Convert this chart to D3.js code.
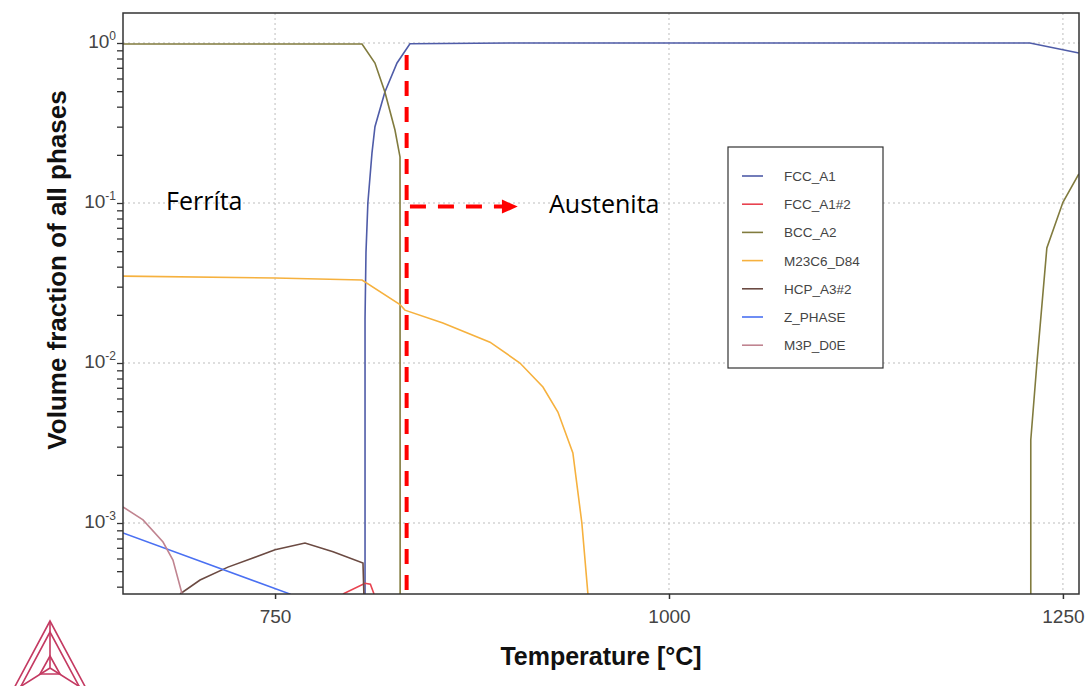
<html lang="en">
<head>
<meta charset="utf-8">
<title>Volume fraction of all phases</title>
<style>
  body { margin: 0; background: #fff; }
  svg { display: block; }
  .ticktext { font-family: "Liberation Sans", Arial, sans-serif; fill: #444; }
</style>
<script src="https://cdn.jsdelivr.net/npm/d3@7"></script>
</head>
<body>
<svg id="chart" width="1086" height="686"></svg>
<script>
// phase curves, [temperature °C, volume fraction]
var fccA1 = [[807.1, 2e-4], [807.1, 0.0187], [807.7, 0.049], [808.9, 0.1], [811.5, 0.205],
  [813.4, 0.30], [819.7, 0.494], [827.4, 0.75], [835.6, 0.99], [900, 1.0], [1000, 1.0],
  [1229, 1.0], [1260.1, 0.866]];
var fccA1n2 = [[793.1, 3.6e-4], [807.1, 4.2e-4], [810.5, 4.15e-4], [812.8, 3.6e-4]];
var bccA2 = [[653.5, 0.985], [805.2, 0.985], [813.4, 0.75], [819.7, 0.494], [826.1, 0.286],
  [829.3, 0.194], [829.4, 2e-4]];
var bccA2high = [[1229.6, 2e-4], [1229.6, 3.3e-3], [1233.5, 0.01], [1239.8, 0.0524],
  [1250, 0.101], [1260.1, 0.152]];
var m23c6 = [[653.5, 0.0349], [750, 0.034], [805.2, 0.033], [829.3, 0.0232], [832.4, 0.0214],
  [856.5, 0.0178], [886.4, 0.0135], [905.4, 0.01], [920, 0.00708], [929.5, 0.00494],
  [939, 0.00274], [944.7, 0.001], [948.5, 3.65e-4], [949, 3e-4]];
var hcpA3n2 = [[689.7, 3.6e-4], [702.4, 4.4e-4], [720.1, 5.3e-4], [750, 6.8e-4], [769, 7.5e-4],
  [786.8, 6.62e-4], [805.8, 5.62e-4], [807.1, 2e-4]];
var zPhase = [[653.5, 8.66e-4], [706.5, 5.58e-4], [759.5, 3.6e-4], [760, 3.4e-4]];
var m3pD0e = [[653.5, 1.26e-3], [666.2, 1.045e-3], [678.9, 7.6e-4], [685.2, 5.87e-4], [691, 3.6e-4]];

var phaseNames = ["FCC_A1", "FCC_A1#2", "BCC_A2", "M23C6_D84", "HCP_A3#2", "Z_PHASE", "M3P_D0E"];
var phaseColors = ["#4f5ca8", "#e8424f", "#817b3e", "#f6b13e", "#6b4a42", "#4a70f2", "#c08490"];
var phaseCurves = [[fccA1], [fccA1n2], [bccA2, bccA2high], [m23c6], [hcpA3n2], [zPhase], [m3pD0e]];

var xTicks = [750, 1000, 1250];
var yExps = [0, -1, -2, -3];

var svg = d3.select("#chart");
var pLeft = 123, pRight = 1079, pTop = 13, pBottom = 594;

var x = d3.scaleLinear().domain([653.5, 1260.2]).range([pLeft, pRight]);
var y = d3.scaleLog().domain([3.6e-4, 1.54]).range([pBottom, pTop]);

svg.append("clipPath").attr("id", "plotclip")
  .append("rect").attr("x", pLeft).attr("y", pTop)
  .attr("width", pRight - pLeft).attr("height", pBottom - pTop);

// grid
var grid = svg.append("g").attr("stroke", "#bdbdbd").attr("stroke-dasharray", "2,3").attr("stroke-width", 1);
xTicks.forEach(function(t) {
  grid.append("line").attr("x1", x(t)).attr("x2", x(t)).attr("y1", pTop).attr("y2", pBottom);
});
yExps.forEach(function(e) {
  grid.append("line").attr("x1", pLeft).attr("x2", pRight).attr("y1", y(Math.pow(10, e))).attr("y2", y(Math.pow(10, e)));
});

// axes
var xAxis = d3.axisBottom(x).tickValues(xTicks).tickSize(5).tickPadding(8).tickFormat(d3.format("d"));
var gx = svg.append("g").attr("transform", "translate(0," + pBottom + ")").call(xAxis);
gx.select(".domain").remove();
gx.selectAll("line").attr("stroke", "#333").attr("stroke-width", 1.5);
gx.selectAll("text").attr("class", "ticktext").style("font-size", "19px").attr("dy", "0.85em");

var minorVals = [];
for (var e = -4; e <= 0; e++) {
  for (var m = 1; m <= 9; m++) {
    var v = m * Math.pow(10, e);
    if (v >= 3.6e-4 && v <= 1.54) minorVals.push(v);
  }
}
var yAxis = d3.axisLeft(y).tickValues(minorVals).tickSize(6).tickFormat("");
var gy = svg.append("g").attr("transform", "translate(" + pLeft + ",0)").call(yAxis);
gy.select(".domain").remove();
gy.selectAll("line").attr("stroke", "#333").attr("stroke-width", 1.3);

yExps.forEach(function(e) {
  var t = svg.append("text").attr("class", "ticktext")
    .attr("x", pLeft - 7).attr("y", y(Math.pow(10, e)) + 5)
    .attr("text-anchor", "end").style("font-size", "19px");
  t.append("tspan").text("10");
  t.append("tspan").attr("dy", -8).style("font-size", "12px").text(e);
});

// curves
var line = d3.line().x(function(d) { return x(d[0]); }).y(function(d) { return y(d[1]); });
var plot = svg.append("g").attr("clip-path", "url(#plotclip)");
phaseCurves.forEach(function(segs, i) {
  segs.forEach(function(seg) {
    plot.append("path").datum(seg).attr("d", line)
      .attr("fill", "none").attr("stroke", phaseColors[i]).attr("stroke-width", 1.6);
  });
});

// frame
svg.append("rect").attr("x", pLeft).attr("y", pTop).attr("width", pRight - pLeft).attr("height", pBottom - pTop)
  .attr("fill", "none").attr("stroke", "#333").attr("stroke-width", 1.5);

// axis titles
svg.append("text").attr("x", (pLeft + pRight) / 2).attr("y", 665).attr("text-anchor", "middle")
  .style("font-family", "'Liberation Sans', Arial, sans-serif").style("font-weight", "bold")
  .style("font-size", "25px").attr("fill", "#111").text("Temperature [°C]");
svg.append("text").attr("transform", "translate(66,270) rotate(-90)").attr("text-anchor", "middle")
  .style("font-family", "'Liberation Sans', Arial, sans-serif").style("font-weight", "bold")
  .style("font-size", "26px").attr("fill", "#111").text("Volume fraction of all phases");

// legend
var lg = svg.append("g");
lg.append("rect").attr("x", 728).attr("y", 147).attr("width", 155).attr("height", 221)
  .attr("fill", "#fff").attr("stroke", "#333").attr("stroke-width", 1.2);
phaseNames.forEach(function(name, i) {
  var ly = 176 + i * 28.2;
  lg.append("line").attr("x1", 742).attr("x2", 763).attr("y1", ly).attr("y2", ly)
    .attr("stroke", phaseColors[i]).attr("stroke-width", 1.6);
  lg.append("text").attr("x", 784).attr("y", ly + 5).attr("class", "ticktext")
    .style("font-size", "13.5px").attr("fill", "#333").text(name);
});

// annotations
var tBoundary = 833.5;
svg.append("line").attr("x1", x(tBoundary)).attr("x2", x(tBoundary))
  .attr("y1", y(0.84)).attr("y2", pBottom + 5)
  .attr("stroke", "#ff0000").attr("stroke-width", 4).attr("stroke-dasharray", "15,11");
var arrowY = y(0.095);
svg.append("line").attr("x1", x(835.6)).attr("x2", x(897)).attr("y1", arrowY).attr("y2", arrowY)
  .attr("stroke", "#ff0000").attr("stroke-width", 4).attr("stroke-dasharray", "16,12");
svg.append("path")
  .attr("d", "M" + x(894) + "," + (arrowY - 7) + "L" + x(904) + "," + arrowY + "L" + x(894) + "," + (arrowY + 7) + "Z")
  .attr("fill", "#ff0000");

svg.append("text").attr("x", 166).attr("y", 210).style("font-family", "'Open Sans', sans-serif")
  .style("font-size", "25px").attr("fill", "#000").text("Ferríta");
svg.append("text").attr("x", 549).attr("y", 213).style("font-family", "'Open Sans', sans-serif")
  .style("font-size", "25px").attr("fill", "#000").text("Austenita");

// logo
var logo = svg.append("g").attr("fill", "none").attr("stroke", "#c43a62").attr("stroke-width", 1.6);
logo.append("path").attr("d", "M50,621 L12,692 L88,692 Z");
logo.append("path").attr("d", "M50,632 L20,688 L80,688 Z");
logo.append("path").attr("d", "M50,621 L50,668 M12,692 L50,668 M88,692 L50,668");
logo.append("path").attr("d", "M50,656 L40,674 L60,674 Z");
</script>
</body>
</html>
